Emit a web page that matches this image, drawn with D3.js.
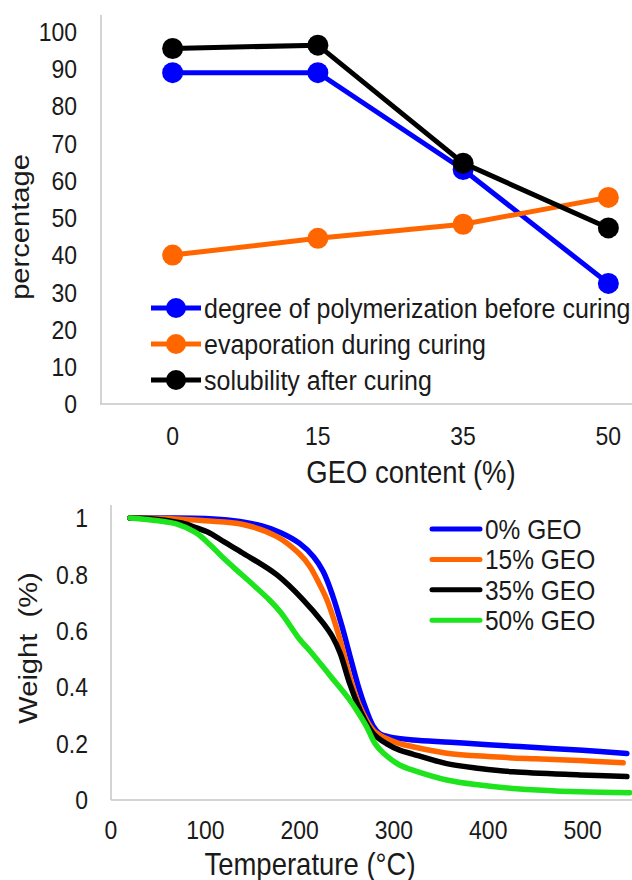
<!DOCTYPE html>
<html>
<head>
<meta charset="utf-8">
<script src="https://cdn.jsdelivr.net/npm/d3@7/dist/d3.min.js"></script>
<style>
    body { margin: 0; background: #fff; }
    svg { display: block; font-family: Arial, "Liberation Sans", sans-serif; }
    text { fill: #1a1a1a; }
</style>
</head>
<body>
<script>
// ---- top chart: GEO content vs percentage
var geoContent = ['0', '15', '35', '50'];
var polymerization = [89, 89, 63, 32.4];
var evaporation = [40, 44.5, 48.3, 55.5];
var solubility = [95.5, 96.4, 64.7, 47.3];
var pctTicks = [0, 10, 20, 30, 40, 50, 60, 70, 80, 90, 100];
var topNames = ['degree of polymerization before curing', 'evaporation during curing', 'solubility after curing'];
var topColors = ['#0000ff', '#ff6600', '#000000'];

// ---- bottom chart: weight vs temperature
var tempTicks = [0, 100, 200, 300, 400, 500];
var weightTicks = [0, 0.2, 0.4, 0.6, 0.8, 1];
var geo0 = [[20,1.0],[60,1.0],[100,0.998],[130,0.99],[160,0.972],[180,0.948],[200,0.91],[215,0.862],[225,0.81],[235,0.725],[245,0.615],[255,0.49],[262,0.405],[270,0.325],[278,0.262],[285,0.235],[295,0.224],[320,0.213],[360,0.205],[400,0.196],[450,0.186],[500,0.176],[547,0.165]];
var geo15 = [[20,1.0],[60,0.998],[100,0.99],[140,0.977],[176,0.934],[200,0.872],[211,0.827],[220,0.772],[229,0.709],[243,0.567],[253,0.44],[264,0.331],[278,0.248],[292,0.218],[306,0.2],[320,0.189],[356,0.166],[400,0.154],[450,0.146],[497,0.14],[543,0.132]];
var geo35 = [[20,1.0],[50,0.995],[75,0.982],[90,0.966],[105,0.946],[120,0.915],[140,0.875],[176,0.798],[204,0.709],[225,0.627],[235,0.578],[243,0.52],[253,0.414],[264,0.319],[278,0.236],[292,0.2],[306,0.177],[320,0.163],[356,0.129],[391,0.112],[426,0.1],[497,0.089],[547,0.083]];
var geo50 = [[20,1.0],[50,0.99],[70,0.978],[90,0.948],[105,0.905],[120,0.855],[140,0.795],[168,0.709],[180,0.665],[200,0.57],[211,0.528],[235,0.43],[253,0.355],[262,0.31],[271,0.26],[280,0.2],[289,0.166],[306,0.124],[320,0.106],[356,0.071],[391,0.053],[426,0.041],[497,0.029],[550,0.026]];
var tgaNames = ['0% GEO', '15% GEO', '35% GEO', '50% GEO'];
var tgaColors = ['#0000ff', '#ff6600', '#000000', '#1de41d'];

var W = 632, H = 880,
    SY = 1.12,          // the picture is a bit stretched vertically
    axisColor = '#c6c6c6';

var svg = d3.select('body').append('svg')
    .attr('width', W)
    .attr('height', H);

function label(g, x, y, str, size, anchor, rotate) {
    var t = rotate ? 'translate(' + [x, y] + ') rotate(-90) scale(' + SY + ',1)'
                   : 'translate(' + [x, y] + ') scale(1,' + SY + ')';
    return g.append('text')
        .attr('transform', t)
        .attr('text-anchor', anchor || 'middle')
        .style('font-size', size + 'px')
        .style('white-space', 'pre')
        .text(str);
}

// ================= top chart
var upper = svg.append('g');

var x1 = d3.scaleBand().domain(geoContent).range([100, 681]),
    y1 = d3.scaleLinear().domain([0, 104.5]).range([404, 15]);

upper.append('path')
    .attr('d', 'M' + [x1.range()[0], y1(0)] + ' L' + [W, y1(0)])
    .attr('stroke', axisColor).attr('stroke-width', 1.5);
upper.append('path')
    .attr('d', 'M' + [101, y1(0)] + ' L' + [101, y1.range()[1]])
    .attr('stroke', axisColor).attr('stroke-width', 1.5);

pctTicks.forEach(function(d) {
    label(upper, 77, y1(d), d, 23, 'end').attr('dy', '0.36em');
});
geoContent.forEach(function(d) {
    label(upper, x1(d) + x1.bandwidth() / 2, 445, d, 23);
});

label(upper, 411, 483, 'GEO content (%)', 27.5);
label(upper, 29, 227, 'percentage', 26, 'middle', true);

var cx = function(d, i) { return x1(geoContent[i]) + x1.bandwidth() / 2; };
var line1 = d3.line().x(cx).y(function(d) { return y1(d); });

[polymerization, evaporation, solubility].forEach(function(s, k) {
    upper.append('path')
        .attr('d', line1(s))
        .attr('fill', 'none')
        .attr('stroke', topColors[k])
        .attr('stroke-width', 5);
    upper.selectAll(null).data(s).enter().append('circle')
        .attr('cx', cx)
        .attr('cy', function(d) { return y1(d); })
        .attr('r', 10.5)
        .attr('fill', topColors[k]);
});

// legend
topNames.forEach(function(name, k) {
    var ly = 308 + k * 36;
    upper.append('path')
        .attr('d', 'M' + [151, ly] + ' L' + [201, ly])
        .attr('stroke', topColors[k]).attr('stroke-width', 5);
    upper.append('circle')
        .attr('cx', 176).attr('cy', ly).attr('r', 10)
        .attr('fill', topColors[k]);
    label(upper, 204, ly, name, 25, 'start').attr('dy', '0.36em');
});

// ================= bottom chart
var lower = svg.append('g');

var x2 = d3.scaleLinear().domain([0, 552]).range([111, 631.6]),
    y2 = d3.scaleLinear().domain([0, 1.046]).range([800, 505]);

lower.append('path')
    .attr('d', 'M' + [x2(0), y2(0)] + ' L' + [W, y2(0)])
    .attr('stroke', axisColor).attr('stroke-width', 1.5);
lower.append('path')
    .attr('d', 'M' + [x2(0), y2(0)] + ' L' + [x2(0), y2.range()[1]])
    .attr('stroke', axisColor).attr('stroke-width', 1.5);

weightTicks.forEach(function(d) {
    label(lower, 88, y2(d), d3.format('~g')(d), 23, 'end').attr('dy', '0.36em');
});
tempTicks.forEach(function(d) {
    label(lower, x2(d), 839, d, 23);
});

label(lower, 310, 875, 'Temperature (\u00b0C)', 27.5);
label(lower, 37, 648, 'Weight  (%)', 26, 'middle', true);

var line2 = d3.line()
    .x(function(d) { return x2(d[0]); })
    .y(function(d) { return y2(d[1]); })
    .curve(d3.curveCatmullRom.alpha(0.5));

[geo0, geo15, geo35, geo50].forEach(function(s, k) {
    lower.append('path')
        .attr('d', line2(s))
        .attr('fill', 'none')
        .attr('stroke', tgaColors[k])
        .attr('stroke-width', 5.5)
        .attr('stroke-linecap', 'round')
        .attr('stroke-linejoin', 'round');
});

tgaNames.forEach(function(name, k) {
    var ly = 529 + k * 30.4;
    lower.append('path')
        .attr('d', 'M' + [432, ly] + ' L' + [480, ly])
        .attr('stroke', tgaColors[k]).attr('stroke-width', 5)
        .attr('stroke-linecap', 'round');
    label(lower, 485, ly, name, 24.5, 'start').attr('dy', '0.36em');
});
</script>
</body>
</html>
